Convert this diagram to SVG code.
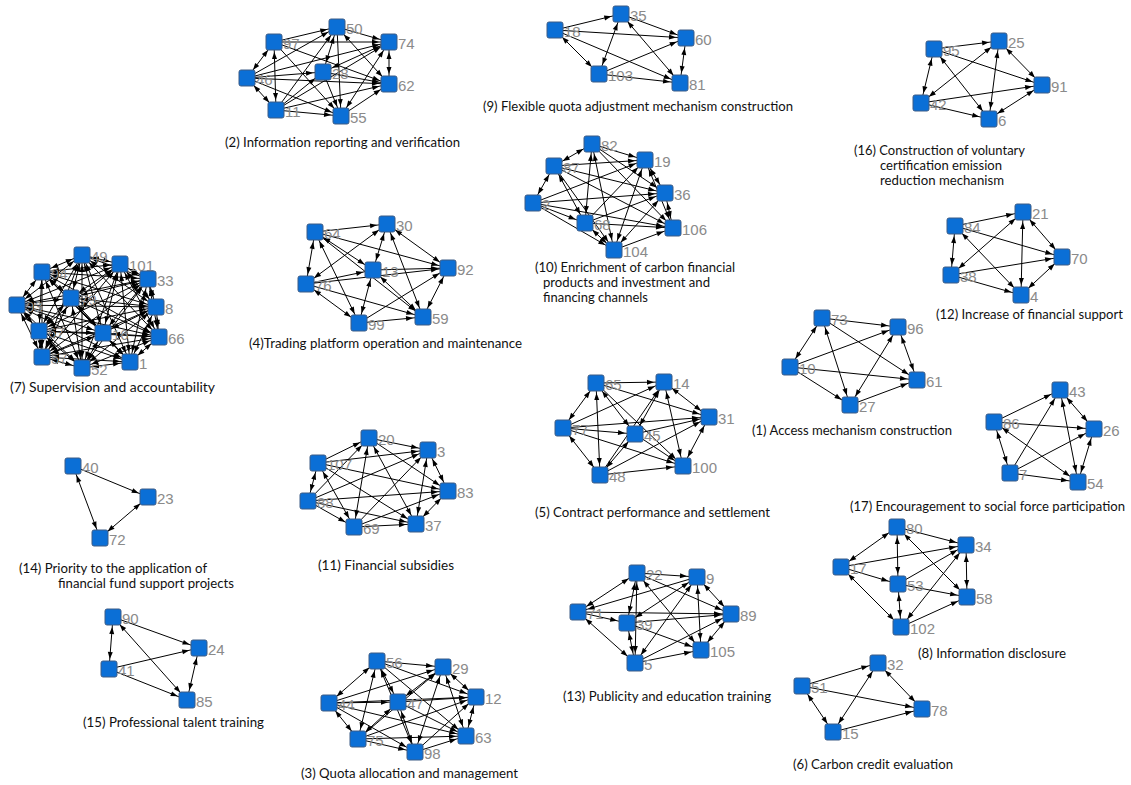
<svg xmlns="http://www.w3.org/2000/svg" width="1131" height="785" viewBox="0 0 1131 785">
<style>
.e{stroke:#000;stroke-width:1;fill:none;marker-end:url(#ah)}
.d{stroke:#000;stroke-width:1;fill:none;marker-start:url(#ah);marker-end:url(#ah)}
.n{fill:#0b6fd6;stroke:#3d5c86;stroke-width:1}
.l{font-family:"Liberation Sans",Arial,sans-serif;font-size:15px;fill:#8a8a8a}
.c{font-family:Lato,"Open Sans",sans-serif;font-size:13px;fill:#111}
</style>
<defs>
<marker id="ah" markerUnits="userSpaceOnUse" markerWidth="20" markerHeight="6" viewBox="0 0 20 6" refX="17" refY="2.5" orient="auto-start-reverse" overflow="visible"><path d="M0,0 L7,2.5 L0,5 z" fill="#000"/></marker>
</defs>
<rect width="1131" height="785" fill="#fff"/>
<g id="connectors">
<!-- cluster 2 -->
<line x1="274" y1="42" x2="337" y2="27" class="e"/>
<line x1="274" y1="42" x2="389" y2="42" class="e"/>
<line x1="274" y1="42" x2="247" y2="78" class="d"/>
<line x1="274" y1="42" x2="276" y2="110" class="d"/>
<line x1="274" y1="42" x2="389" y2="84" class="e"/>
<line x1="274" y1="42" x2="341" y2="116" class="e"/>
<line x1="247" y1="78" x2="337" y2="27" class="e"/>
<line x1="247" y1="78" x2="389" y2="42" class="e"/>
<line x1="247" y1="78" x2="323" y2="72" class="e"/>
<line x1="247" y1="78" x2="389" y2="84" class="e"/>
<line x1="247" y1="78" x2="276" y2="110" class="d"/>
<line x1="247" y1="78" x2="341" y2="116" class="e"/>
<line x1="337" y1="27" x2="389" y2="42" class="e"/>
<line x1="337" y1="27" x2="323" y2="72" class="d"/>
<line x1="337" y1="27" x2="389" y2="84" class="d"/>
<line x1="337" y1="27" x2="341" y2="116" class="e"/>
<line x1="276" y1="110" x2="337" y2="27" class="e"/>
<line x1="389" y1="42" x2="389" y2="84" class="d"/>
<line x1="323" y1="72" x2="389" y2="42" class="d"/>
<line x1="276" y1="110" x2="389" y2="42" class="e"/>
<line x1="389" y1="42" x2="341" y2="116" class="d"/>
<line x1="323" y1="72" x2="389" y2="84" class="e"/>
<line x1="323" y1="72" x2="341" y2="116" class="e"/>
<line x1="276" y1="110" x2="323" y2="72" class="e"/>
<line x1="276" y1="110" x2="341" y2="116" class="e"/>
<line x1="276" y1="110" x2="389" y2="84" class="e"/>
<line x1="341" y1="116" x2="389" y2="84" class="e"/>
<!-- cluster 9 -->
<line x1="555" y1="30" x2="621" y2="14" class="e"/>
<line x1="555" y1="30" x2="686" y2="38" class="e"/>
<line x1="555" y1="30" x2="680" y2="83" class="e"/>
<line x1="555" y1="30" x2="599" y2="74" class="d"/>
<line x1="621" y1="14" x2="599" y2="74" class="d"/>
<line x1="621" y1="14" x2="686" y2="38" class="e"/>
<line x1="621" y1="14" x2="680" y2="83" class="d"/>
<line x1="599" y1="74" x2="686" y2="38" class="e"/>
<line x1="599" y1="74" x2="680" y2="83" class="e"/>
<line x1="686" y1="38" x2="680" y2="83" class="d"/>
<!-- cluster 16 -->
<line x1="934" y1="49" x2="999" y2="41" class="e"/>
<line x1="934" y1="49" x2="1042" y2="85" class="e"/>
<line x1="934" y1="49" x2="921" y2="103" class="d"/>
<line x1="934" y1="49" x2="989" y2="119" class="d"/>
<line x1="921" y1="103" x2="999" y2="41" class="d"/>
<line x1="921" y1="103" x2="1042" y2="85" class="e"/>
<line x1="921" y1="103" x2="989" y2="119" class="e"/>
<line x1="999" y1="41" x2="1042" y2="85" class="d"/>
<line x1="999" y1="41" x2="989" y2="119" class="d"/>
<line x1="989" y1="119" x2="1042" y2="85" class="d"/>
<!-- cluster 10 -->
<line x1="554" y1="166" x2="592" y2="144" class="d"/>
<line x1="554" y1="166" x2="645" y2="160" class="e"/>
<line x1="554" y1="166" x2="665" y2="193" class="e"/>
<line x1="554" y1="166" x2="673" y2="228" class="e"/>
<line x1="554" y1="166" x2="533" y2="203" class="d"/>
<line x1="554" y1="166" x2="585" y2="223" class="d"/>
<line x1="554" y1="166" x2="614" y2="250" class="e"/>
<line x1="592" y1="144" x2="645" y2="160" class="e"/>
<line x1="592" y1="144" x2="585" y2="223" class="d"/>
<line x1="592" y1="144" x2="614" y2="250" class="d"/>
<line x1="592" y1="144" x2="665" y2="193" class="e"/>
<line x1="592" y1="144" x2="673" y2="228" class="e"/>
<line x1="533" y1="203" x2="645" y2="160" class="e"/>
<line x1="533" y1="203" x2="665" y2="193" class="e"/>
<line x1="533" y1="203" x2="585" y2="223" class="e"/>
<line x1="533" y1="203" x2="614" y2="250" class="e"/>
<line x1="533" y1="203" x2="673" y2="228" class="e"/>
<line x1="645" y1="160" x2="665" y2="193" class="d"/>
<line x1="585" y1="223" x2="645" y2="160" class="e"/>
<line x1="645" y1="160" x2="614" y2="250" class="d"/>
<line x1="645" y1="160" x2="673" y2="228" class="d"/>
<line x1="665" y1="193" x2="673" y2="228" class="d"/>
<line x1="585" y1="223" x2="665" y2="193" class="e"/>
<line x1="665" y1="193" x2="614" y2="250" class="d"/>
<line x1="585" y1="223" x2="673" y2="228" class="e"/>
<line x1="585" y1="223" x2="614" y2="250" class="d"/>
<line x1="614" y1="250" x2="673" y2="228" class="e"/>
<!-- cluster 4 -->
<line x1="315" y1="232" x2="387" y2="224" class="e"/>
<line x1="315" y1="232" x2="448" y2="268" class="e"/>
<line x1="315" y1="232" x2="306" y2="284" class="d"/>
<line x1="315" y1="232" x2="373" y2="270" class="d"/>
<line x1="315" y1="232" x2="359" y2="323" class="d"/>
<line x1="315" y1="232" x2="423" y2="317" class="e"/>
<line x1="387" y1="224" x2="306" y2="284" class="d"/>
<line x1="387" y1="224" x2="373" y2="270" class="d"/>
<line x1="387" y1="224" x2="448" y2="268" class="d"/>
<line x1="387" y1="224" x2="423" y2="317" class="d"/>
<line x1="373" y1="270" x2="448" y2="268" class="e"/>
<line x1="306" y1="284" x2="373" y2="270" class="e"/>
<line x1="306" y1="284" x2="448" y2="268" class="e"/>
<line x1="306" y1="284" x2="359" y2="323" class="d"/>
<line x1="306" y1="284" x2="423" y2="317" class="e"/>
<line x1="373" y1="270" x2="359" y2="323" class="d"/>
<line x1="373" y1="270" x2="423" y2="317" class="d"/>
<line x1="359" y1="323" x2="423" y2="317" class="e"/>
<line x1="359" y1="323" x2="448" y2="268" class="e"/>
<line x1="448" y1="268" x2="423" y2="317" class="d"/>
<!-- cluster 7 -->
<line x1="82" y1="255" x2="120" y2="264" class="d"/>
<line x1="82" y1="255" x2="42" y2="272" class="d"/>
<line x1="82" y1="255" x2="148" y2="279" class="d"/>
<line x1="82" y1="255" x2="71" y2="298" class="d"/>
<line x1="82" y1="255" x2="17" y2="305" class="d"/>
<line x1="82" y1="255" x2="156" y2="307" class="d"/>
<line x1="82" y1="255" x2="39" y2="331" class="d"/>
<line x1="82" y1="255" x2="103" y2="333" class="d"/>
<line x1="82" y1="255" x2="159" y2="337" class="d"/>
<line x1="82" y1="255" x2="42" y2="357" class="d"/>
<line x1="82" y1="255" x2="82" y2="368" class="d"/>
<line x1="82" y1="255" x2="130" y2="362" class="d"/>
<line x1="120" y1="264" x2="42" y2="272" class="d"/>
<line x1="120" y1="264" x2="148" y2="279" class="d"/>
<line x1="120" y1="264" x2="71" y2="298" class="d"/>
<line x1="120" y1="264" x2="17" y2="305" class="d"/>
<line x1="120" y1="264" x2="156" y2="307" class="d"/>
<line x1="120" y1="264" x2="39" y2="331" class="d"/>
<line x1="120" y1="264" x2="103" y2="333" class="d"/>
<line x1="120" y1="264" x2="159" y2="337" class="d"/>
<line x1="120" y1="264" x2="42" y2="357" class="d"/>
<line x1="120" y1="264" x2="82" y2="368" class="d"/>
<line x1="120" y1="264" x2="130" y2="362" class="d"/>
<line x1="42" y1="272" x2="148" y2="279" class="d"/>
<line x1="42" y1="272" x2="71" y2="298" class="d"/>
<line x1="42" y1="272" x2="17" y2="305" class="d"/>
<line x1="42" y1="272" x2="156" y2="307" class="d"/>
<line x1="42" y1="272" x2="39" y2="331" class="d"/>
<line x1="42" y1="272" x2="103" y2="333" class="d"/>
<line x1="42" y1="272" x2="159" y2="337" class="d"/>
<line x1="42" y1="272" x2="42" y2="357" class="d"/>
<line x1="42" y1="272" x2="82" y2="368" class="d"/>
<line x1="42" y1="272" x2="130" y2="362" class="d"/>
<line x1="148" y1="279" x2="71" y2="298" class="d"/>
<line x1="148" y1="279" x2="17" y2="305" class="d"/>
<line x1="148" y1="279" x2="156" y2="307" class="d"/>
<line x1="148" y1="279" x2="39" y2="331" class="d"/>
<line x1="148" y1="279" x2="103" y2="333" class="d"/>
<line x1="148" y1="279" x2="159" y2="337" class="d"/>
<line x1="148" y1="279" x2="42" y2="357" class="d"/>
<line x1="148" y1="279" x2="82" y2="368" class="d"/>
<line x1="148" y1="279" x2="130" y2="362" class="d"/>
<line x1="71" y1="298" x2="17" y2="305" class="d"/>
<line x1="71" y1="298" x2="156" y2="307" class="d"/>
<line x1="71" y1="298" x2="39" y2="331" class="d"/>
<line x1="71" y1="298" x2="103" y2="333" class="d"/>
<line x1="71" y1="298" x2="159" y2="337" class="d"/>
<line x1="71" y1="298" x2="42" y2="357" class="d"/>
<line x1="71" y1="298" x2="82" y2="368" class="d"/>
<line x1="71" y1="298" x2="130" y2="362" class="d"/>
<line x1="17" y1="305" x2="156" y2="307" class="d"/>
<line x1="17" y1="305" x2="39" y2="331" class="d"/>
<line x1="17" y1="305" x2="103" y2="333" class="d"/>
<line x1="17" y1="305" x2="159" y2="337" class="d"/>
<line x1="17" y1="305" x2="42" y2="357" class="d"/>
<line x1="17" y1="305" x2="82" y2="368" class="d"/>
<line x1="17" y1="305" x2="130" y2="362" class="d"/>
<line x1="156" y1="307" x2="39" y2="331" class="d"/>
<line x1="156" y1="307" x2="103" y2="333" class="d"/>
<line x1="156" y1="307" x2="159" y2="337" class="d"/>
<line x1="156" y1="307" x2="42" y2="357" class="d"/>
<line x1="156" y1="307" x2="82" y2="368" class="d"/>
<line x1="156" y1="307" x2="130" y2="362" class="d"/>
<line x1="39" y1="331" x2="103" y2="333" class="d"/>
<line x1="39" y1="331" x2="159" y2="337" class="d"/>
<line x1="39" y1="331" x2="42" y2="357" class="d"/>
<line x1="39" y1="331" x2="82" y2="368" class="d"/>
<line x1="39" y1="331" x2="130" y2="362" class="d"/>
<line x1="103" y1="333" x2="159" y2="337" class="d"/>
<line x1="103" y1="333" x2="42" y2="357" class="d"/>
<line x1="103" y1="333" x2="82" y2="368" class="d"/>
<line x1="103" y1="333" x2="130" y2="362" class="d"/>
<line x1="159" y1="337" x2="42" y2="357" class="d"/>
<line x1="159" y1="337" x2="82" y2="368" class="d"/>
<line x1="159" y1="337" x2="130" y2="362" class="d"/>
<line x1="42" y1="357" x2="82" y2="368" class="d"/>
<line x1="42" y1="357" x2="130" y2="362" class="d"/>
<line x1="82" y1="368" x2="130" y2="362" class="d"/>
<!-- cluster 12 -->
<line x1="955" y1="226" x2="1023" y2="212" class="e"/>
<line x1="955" y1="226" x2="1062" y2="257" class="e"/>
<line x1="955" y1="226" x2="951" y2="275" class="d"/>
<line x1="955" y1="226" x2="1021" y2="295" class="d"/>
<line x1="951" y1="275" x2="1023" y2="212" class="d"/>
<line x1="951" y1="275" x2="1062" y2="257" class="e"/>
<line x1="951" y1="275" x2="1021" y2="295" class="e"/>
<line x1="1023" y1="212" x2="1062" y2="257" class="d"/>
<line x1="1023" y1="212" x2="1021" y2="295" class="d"/>
<line x1="1021" y1="295" x2="1062" y2="257" class="d"/>
<!-- cluster 1 -->
<line x1="822" y1="318" x2="898" y2="327" class="e"/>
<line x1="822" y1="318" x2="790" y2="367" class="d"/>
<line x1="822" y1="318" x2="850" y2="405" class="d"/>
<line x1="822" y1="318" x2="917" y2="380" class="e"/>
<line x1="790" y1="367" x2="898" y2="327" class="e"/>
<line x1="790" y1="367" x2="917" y2="380" class="e"/>
<line x1="790" y1="367" x2="850" y2="405" class="e"/>
<line x1="850" y1="405" x2="898" y2="327" class="d"/>
<line x1="850" y1="405" x2="917" y2="380" class="e"/>
<line x1="898" y1="327" x2="917" y2="380" class="d"/>
<!-- cluster 17 -->
<line x1="994" y1="422" x2="1060" y2="390" class="e"/>
<line x1="994" y1="422" x2="1094" y2="429" class="e"/>
<line x1="994" y1="422" x2="1010" y2="473" class="d"/>
<line x1="994" y1="422" x2="1078" y2="482" class="d"/>
<line x1="1010" y1="473" x2="1060" y2="390" class="e"/>
<line x1="1010" y1="473" x2="1094" y2="429" class="e"/>
<line x1="1010" y1="473" x2="1078" y2="482" class="e"/>
<line x1="1060" y1="390" x2="1094" y2="429" class="d"/>
<line x1="1060" y1="390" x2="1078" y2="482" class="d"/>
<line x1="1094" y1="429" x2="1078" y2="482" class="d"/>
<!-- cluster 5 -->
<line x1="596" y1="383" x2="664" y2="382" class="e"/>
<line x1="596" y1="383" x2="709" y2="417" class="e"/>
<line x1="596" y1="383" x2="563" y2="428" class="d"/>
<line x1="596" y1="383" x2="635" y2="434" class="d"/>
<line x1="596" y1="383" x2="600" y2="475" class="d"/>
<line x1="596" y1="383" x2="683" y2="466" class="e"/>
<line x1="563" y1="428" x2="664" y2="382" class="e"/>
<line x1="563" y1="428" x2="709" y2="417" class="e"/>
<line x1="563" y1="428" x2="635" y2="434" class="e"/>
<line x1="563" y1="428" x2="600" y2="475" class="d"/>
<line x1="563" y1="428" x2="683" y2="466" class="e"/>
<line x1="664" y1="382" x2="635" y2="434" class="d"/>
<line x1="664" y1="382" x2="709" y2="417" class="d"/>
<line x1="664" y1="382" x2="683" y2="466" class="d"/>
<line x1="600" y1="475" x2="664" y2="382" class="e"/>
<line x1="635" y1="434" x2="709" y2="417" class="e"/>
<line x1="635" y1="434" x2="683" y2="466" class="e"/>
<line x1="635" y1="434" x2="600" y2="475" class="d"/>
<line x1="600" y1="475" x2="709" y2="417" class="e"/>
<line x1="600" y1="475" x2="683" y2="466" class="e"/>
<line x1="709" y1="417" x2="683" y2="466" class="d"/>
<!-- cluster 14 -->
<line x1="73" y1="466" x2="148" y2="497" class="e"/>
<line x1="73" y1="466" x2="100" y2="538" class="d"/>
<line x1="100" y1="538" x2="148" y2="497" class="d"/>
<!-- cluster 15 -->
<line x1="113" y1="617" x2="199" y2="648" class="e"/>
<line x1="113" y1="617" x2="109" y2="669" class="d"/>
<line x1="113" y1="617" x2="187" y2="700" class="d"/>
<line x1="109" y1="669" x2="199" y2="648" class="e"/>
<line x1="109" y1="669" x2="187" y2="700" class="e"/>
<line x1="199" y1="648" x2="187" y2="700" class="d"/>
<!-- cluster 11 -->
<line x1="318" y1="463" x2="369" y2="438" class="e"/>
<line x1="318" y1="463" x2="428" y2="450" class="e"/>
<line x1="318" y1="463" x2="448" y2="491" class="e"/>
<line x1="318" y1="463" x2="308" y2="501" class="d"/>
<line x1="318" y1="463" x2="354" y2="527" class="d"/>
<line x1="318" y1="463" x2="416" y2="524" class="e"/>
<line x1="369" y1="438" x2="428" y2="450" class="e"/>
<line x1="369" y1="438" x2="354" y2="527" class="d"/>
<line x1="369" y1="438" x2="448" y2="491" class="e"/>
<line x1="369" y1="438" x2="416" y2="524" class="d"/>
<line x1="308" y1="501" x2="369" y2="438" class="e"/>
<line x1="308" y1="501" x2="428" y2="450" class="e"/>
<line x1="308" y1="501" x2="448" y2="491" class="e"/>
<line x1="308" y1="501" x2="354" y2="527" class="e"/>
<line x1="308" y1="501" x2="416" y2="524" class="e"/>
<line x1="428" y1="450" x2="448" y2="491" class="d"/>
<line x1="428" y1="450" x2="416" y2="524" class="d"/>
<line x1="354" y1="527" x2="428" y2="450" class="e"/>
<line x1="354" y1="527" x2="448" y2="491" class="e"/>
<line x1="354" y1="527" x2="416" y2="524" class="e"/>
<line x1="416" y1="524" x2="448" y2="491" class="d"/>
<!-- cluster 3 -->
<line x1="377" y1="661" x2="443" y2="667" class="e"/>
<line x1="377" y1="661" x2="476" y2="697" class="e"/>
<line x1="377" y1="661" x2="329" y2="703" class="d"/>
<line x1="377" y1="661" x2="398" y2="702" class="d"/>
<line x1="377" y1="661" x2="358" y2="739" class="d"/>
<line x1="377" y1="661" x2="466" y2="736" class="e"/>
<line x1="377" y1="661" x2="415" y2="752" class="d"/>
<line x1="443" y1="667" x2="398" y2="702" class="d"/>
<line x1="443" y1="667" x2="476" y2="697" class="d"/>
<line x1="443" y1="667" x2="466" y2="736" class="d"/>
<line x1="443" y1="667" x2="415" y2="752" class="d"/>
<line x1="329" y1="703" x2="443" y2="667" class="e"/>
<line x1="358" y1="739" x2="443" y2="667" class="e"/>
<line x1="329" y1="703" x2="398" y2="702" class="e"/>
<line x1="329" y1="703" x2="358" y2="739" class="d"/>
<line x1="329" y1="703" x2="476" y2="697" class="e"/>
<line x1="329" y1="703" x2="466" y2="736" class="e"/>
<line x1="329" y1="703" x2="415" y2="752" class="e"/>
<line x1="398" y1="702" x2="476" y2="697" class="e"/>
<line x1="398" y1="702" x2="466" y2="736" class="e"/>
<line x1="398" y1="702" x2="415" y2="752" class="d"/>
<line x1="398" y1="702" x2="358" y2="739" class="d"/>
<line x1="476" y1="697" x2="466" y2="736" class="d"/>
<line x1="358" y1="739" x2="476" y2="697" class="e"/>
<line x1="415" y1="752" x2="476" y2="697" class="e"/>
<line x1="358" y1="739" x2="466" y2="736" class="e"/>
<line x1="358" y1="739" x2="415" y2="752" class="e"/>
<line x1="415" y1="752" x2="466" y2="736" class="e"/>
<!-- cluster 13 -->
<line x1="637" y1="573" x2="578" y2="612" class="d"/>
<line x1="637" y1="573" x2="627" y2="623" class="d"/>
<line x1="637" y1="573" x2="635" y2="663" class="d"/>
<line x1="637" y1="573" x2="697" y2="577" class="e"/>
<line x1="637" y1="573" x2="731" y2="614" class="e"/>
<line x1="637" y1="573" x2="701" y2="650" class="d"/>
<line x1="697" y1="577" x2="578" y2="612" class="e"/>
<line x1="697" y1="577" x2="627" y2="623" class="d"/>
<line x1="697" y1="577" x2="635" y2="663" class="d"/>
<line x1="697" y1="577" x2="731" y2="614" class="d"/>
<line x1="697" y1="577" x2="701" y2="650" class="d"/>
<line x1="578" y1="612" x2="731" y2="614" class="e"/>
<line x1="578" y1="612" x2="627" y2="623" class="e"/>
<line x1="578" y1="612" x2="635" y2="663" class="d"/>
<line x1="627" y1="623" x2="731" y2="614" class="e"/>
<line x1="627" y1="623" x2="701" y2="650" class="e"/>
<line x1="627" y1="623" x2="635" y2="663" class="d"/>
<line x1="635" y1="663" x2="701" y2="650" class="e"/>
<line x1="635" y1="663" x2="731" y2="614" class="e"/>
<line x1="701" y1="650" x2="731" y2="614" class="d"/>
<!-- cluster 8 -->
<line x1="897" y1="527" x2="966" y2="545" class="e"/>
<line x1="897" y1="527" x2="841" y2="567" class="d"/>
<line x1="897" y1="527" x2="898" y2="584" class="d"/>
<line x1="897" y1="527" x2="967" y2="597" class="d"/>
<line x1="841" y1="567" x2="966" y2="545" class="e"/>
<line x1="841" y1="567" x2="898" y2="584" class="e"/>
<line x1="841" y1="567" x2="901" y2="627" class="d"/>
<line x1="898" y1="584" x2="966" y2="545" class="e"/>
<line x1="898" y1="584" x2="967" y2="597" class="e"/>
<line x1="898" y1="584" x2="901" y2="627" class="d"/>
<line x1="901" y1="627" x2="966" y2="545" class="d"/>
<line x1="901" y1="627" x2="967" y2="597" class="e"/>
<line x1="966" y1="545" x2="967" y2="597" class="d"/>
<!-- cluster 6 -->
<line x1="802" y1="686" x2="878" y2="663" class="e"/>
<line x1="802" y1="686" x2="922" y2="709" class="e"/>
<line x1="802" y1="686" x2="833" y2="732" class="d"/>
<line x1="833" y1="732" x2="878" y2="663" class="d"/>
<line x1="833" y1="732" x2="922" y2="709" class="e"/>
<line x1="878" y1="663" x2="922" y2="709" class="d"/>
</g>
<g id="nodes">
<g id="n97"><rect class="n" x="266" y="34" width="16" height="16" rx="2"/><text class="l" x="283" y="49">97</text></g>
<g id="n50"><rect class="n" x="329" y="19" width="16" height="16" rx="2"/><text class="l" x="346" y="34">50</text></g>
<g id="n74"><rect class="n" x="381" y="34" width="16" height="16" rx="2"/><text class="l" x="398" y="49">74</text></g>
<g id="n46"><rect class="n" x="239" y="70" width="16" height="16" rx="2"/><text class="l" x="256" y="85">46</text></g>
<g id="n28"><rect class="n" x="315" y="64" width="16" height="16" rx="2"/><text class="l" x="332" y="79">28</text></g>
<g id="n62"><rect class="n" x="381" y="76" width="16" height="16" rx="2"/><text class="l" x="398" y="91">62</text></g>
<g id="n11"><rect class="n" x="268" y="102" width="16" height="16" rx="2"/><text class="l" x="285" y="117">11</text></g>
<g id="n55"><rect class="n" x="333" y="108" width="16" height="16" rx="2"/><text class="l" x="350" y="123">55</text></g>
<g id="n18"><rect class="n" x="547" y="22" width="16" height="16" rx="2"/><text class="l" x="564" y="37">18</text></g>
<g id="n35"><rect class="n" x="613" y="6" width="16" height="16" rx="2"/><text class="l" x="630" y="21">35</text></g>
<g id="n60"><rect class="n" x="678" y="30" width="16" height="16" rx="2"/><text class="l" x="695" y="45">60</text></g>
<g id="n103"><rect class="n" x="591" y="66" width="16" height="16" rx="2"/><text class="l" x="608" y="81">103</text></g>
<g id="n81"><rect class="n" x="672" y="75" width="16" height="16" rx="2"/><text class="l" x="689" y="90">81</text></g>
<g id="n95"><rect class="n" x="926" y="41" width="16" height="16" rx="2"/><text class="l" x="943" y="56">95</text></g>
<g id="n25"><rect class="n" x="991" y="33" width="16" height="16" rx="2"/><text class="l" x="1008" y="48">25</text></g>
<g id="n91"><rect class="n" x="1034" y="77" width="16" height="16" rx="2"/><text class="l" x="1051" y="92">91</text></g>
<g id="n42"><rect class="n" x="913" y="95" width="16" height="16" rx="2"/><text class="l" x="930" y="110">42</text></g>
<g id="n6"><rect class="n" x="981" y="111" width="16" height="16" rx="2"/><text class="l" x="998" y="126">6</text></g>
<g id="n82"><rect class="n" x="584" y="136" width="16" height="16" rx="2"/><text class="l" x="601" y="151">82</text></g>
<g id="n87"><rect class="n" x="546" y="158" width="16" height="16" rx="2"/><text class="l" x="563" y="173">87</text></g>
<g id="n19"><rect class="n" x="637" y="152" width="16" height="16" rx="2"/><text class="l" x="654" y="167">19</text></g>
<g id="n2"><rect class="n" x="525" y="195" width="16" height="16" rx="2"/><text class="l" x="542" y="210">2</text></g>
<g id="n36"><rect class="n" x="657" y="185" width="16" height="16" rx="2"/><text class="l" x="674" y="200">36</text></g>
<g id="n68"><rect class="n" x="577" y="215" width="16" height="16" rx="2"/><text class="l" x="594" y="230">68</text></g>
<g id="n106"><rect class="n" x="665" y="220" width="16" height="16" rx="2"/><text class="l" x="682" y="235">106</text></g>
<g id="n104"><rect class="n" x="606" y="242" width="16" height="16" rx="2"/><text class="l" x="623" y="257">104</text></g>
<g id="n64"><rect class="n" x="307" y="224" width="16" height="16" rx="2"/><text class="l" x="324" y="239">64</text></g>
<g id="n30"><rect class="n" x="379" y="216" width="16" height="16" rx="2"/><text class="l" x="396" y="231">30</text></g>
<g id="n13"><rect class="n" x="365" y="262" width="16" height="16" rx="2"/><text class="l" x="382" y="277">13</text></g>
<g id="n92"><rect class="n" x="440" y="260" width="16" height="16" rx="2"/><text class="l" x="457" y="275">92</text></g>
<g id="n76"><rect class="n" x="298" y="276" width="16" height="16" rx="2"/><text class="l" x="315" y="291">76</text></g>
<g id="n99"><rect class="n" x="351" y="315" width="16" height="16" rx="2"/><text class="l" x="368" y="330">99</text></g>
<g id="n59"><rect class="n" x="415" y="309" width="16" height="16" rx="2"/><text class="l" x="432" y="324">59</text></g>
<g id="n49"><rect class="n" x="74" y="247" width="16" height="16" rx="2"/><text class="l" x="91" y="262">49</text></g>
<g id="n101"><rect class="n" x="112" y="256" width="16" height="16" rx="2"/><text class="l" x="129" y="271">101</text></g>
<g id="n94"><rect class="n" x="34" y="264" width="16" height="16" rx="2"/><text class="l" x="51" y="279">94</text></g>
<g id="n33"><rect class="n" x="140" y="271" width="16" height="16" rx="2"/><text class="l" x="157" y="286">33</text></g>
<g id="n79"><rect class="n" x="63" y="290" width="16" height="16" rx="2"/><text class="l" x="80" y="305">79</text></g>
<g id="n93"><rect class="n" x="9" y="297" width="16" height="16" rx="2"/><text class="l" x="26" y="312">93</text></g>
<g id="n8"><rect class="n" x="148" y="299" width="16" height="16" rx="2"/><text class="l" x="165" y="314">8</text></g>
<g id="n67"><rect class="n" x="31" y="323" width="16" height="16" rx="2"/><text class="l" x="48" y="338">67</text></g>
<g id="n16"><rect class="n" x="95" y="325" width="16" height="16" rx="2"/><text class="l" x="112" y="340">16</text></g>
<g id="n66"><rect class="n" x="151" y="329" width="16" height="16" rx="2"/><text class="l" x="168" y="344">66</text></g>
<g id="n57"><rect class="n" x="34" y="349" width="16" height="16" rx="2"/><text class="l" x="51" y="364">57</text></g>
<g id="n52"><rect class="n" x="74" y="360" width="16" height="16" rx="2"/><text class="l" x="91" y="375">52</text></g>
<g id="n1"><rect class="n" x="122" y="354" width="16" height="16" rx="2"/><text class="l" x="139" y="369">1</text></g>
<g id="n21"><rect class="n" x="1015" y="204" width="16" height="16" rx="2"/><text class="l" x="1032" y="219">21</text></g>
<g id="n84"><rect class="n" x="947" y="218" width="16" height="16" rx="2"/><text class="l" x="964" y="233">84</text></g>
<g id="n70"><rect class="n" x="1054" y="249" width="16" height="16" rx="2"/><text class="l" x="1071" y="264">70</text></g>
<g id="n38"><rect class="n" x="943" y="267" width="16" height="16" rx="2"/><text class="l" x="960" y="282">38</text></g>
<g id="n4"><rect class="n" x="1013" y="287" width="16" height="16" rx="2"/><text class="l" x="1030" y="302">4</text></g>
<g id="n73"><rect class="n" x="814" y="310" width="16" height="16" rx="2"/><text class="l" x="831" y="325">73</text></g>
<g id="n96"><rect class="n" x="890" y="319" width="16" height="16" rx="2"/><text class="l" x="907" y="334">96</text></g>
<g id="n10"><rect class="n" x="782" y="359" width="16" height="16" rx="2"/><text class="l" x="799" y="374">10</text></g>
<g id="n61"><rect class="n" x="909" y="372" width="16" height="16" rx="2"/><text class="l" x="926" y="387">61</text></g>
<g id="n27"><rect class="n" x="842" y="397" width="16" height="16" rx="2"/><text class="l" x="859" y="412">27</text></g>
<g id="n43"><rect class="n" x="1052" y="382" width="16" height="16" rx="2"/><text class="l" x="1069" y="397">43</text></g>
<g id="n86"><rect class="n" x="986" y="414" width="16" height="16" rx="2"/><text class="l" x="1003" y="429">86</text></g>
<g id="n26"><rect class="n" x="1086" y="421" width="16" height="16" rx="2"/><text class="l" x="1103" y="436">26</text></g>
<g id="n7"><rect class="n" x="1002" y="465" width="16" height="16" rx="2"/><text class="l" x="1019" y="480">7</text></g>
<g id="n54"><rect class="n" x="1070" y="474" width="16" height="16" rx="2"/><text class="l" x="1087" y="489">54</text></g>
<g id="n65"><rect class="n" x="588" y="375" width="16" height="16" rx="2"/><text class="l" x="605" y="390">65</text></g>
<g id="n14"><rect class="n" x="656" y="374" width="16" height="16" rx="2"/><text class="l" x="673" y="389">14</text></g>
<g id="n77"><rect class="n" x="555" y="420" width="16" height="16" rx="2"/><text class="l" x="572" y="435">77</text></g>
<g id="n31"><rect class="n" x="701" y="409" width="16" height="16" rx="2"/><text class="l" x="718" y="424">31</text></g>
<g id="n45"><rect class="n" x="627" y="426" width="16" height="16" rx="2"/><text class="l" x="644" y="441">45</text></g>
<g id="n48"><rect class="n" x="592" y="467" width="16" height="16" rx="2"/><text class="l" x="609" y="482">48</text></g>
<g id="n100"><rect class="n" x="675" y="458" width="16" height="16" rx="2"/><text class="l" x="692" y="473">100</text></g>
<g id="n40"><rect class="n" x="65" y="458" width="16" height="16" rx="2"/><text class="l" x="82" y="473">40</text></g>
<g id="n23"><rect class="n" x="140" y="489" width="16" height="16" rx="2"/><text class="l" x="157" y="504">23</text></g>
<g id="n72"><rect class="n" x="92" y="530" width="16" height="16" rx="2"/><text class="l" x="109" y="545">72</text></g>
<g id="n90"><rect class="n" x="105" y="609" width="16" height="16" rx="2"/><text class="l" x="122" y="624">90</text></g>
<g id="n24"><rect class="n" x="191" y="640" width="16" height="16" rx="2"/><text class="l" x="208" y="655">24</text></g>
<g id="n41"><rect class="n" x="101" y="661" width="16" height="16" rx="2"/><text class="l" x="118" y="676">41</text></g>
<g id="n85"><rect class="n" x="179" y="692" width="16" height="16" rx="2"/><text class="l" x="196" y="707">85</text></g>
<g id="n20"><rect class="n" x="361" y="430" width="16" height="16" rx="2"/><text class="l" x="378" y="445">20</text></g>
<g id="n3"><rect class="n" x="420" y="442" width="16" height="16" rx="2"/><text class="l" x="437" y="457">3</text></g>
<g id="n107"><rect class="n" x="310" y="455" width="16" height="16" rx="2"/><text class="l" x="327" y="470">107</text></g>
<g id="n83"><rect class="n" x="440" y="483" width="16" height="16" rx="2"/><text class="l" x="457" y="498">83</text></g>
<g id="n88"><rect class="n" x="300" y="493" width="16" height="16" rx="2"/><text class="l" x="317" y="508">88</text></g>
<g id="n69"><rect class="n" x="346" y="519" width="16" height="16" rx="2"/><text class="l" x="363" y="534">69</text></g>
<g id="n37"><rect class="n" x="408" y="516" width="16" height="16" rx="2"/><text class="l" x="425" y="531">37</text></g>
<g id="n56"><rect class="n" x="369" y="653" width="16" height="16" rx="2"/><text class="l" x="386" y="668">56</text></g>
<g id="n29"><rect class="n" x="435" y="659" width="16" height="16" rx="2"/><text class="l" x="452" y="674">29</text></g>
<g id="n44"><rect class="n" x="321" y="695" width="16" height="16" rx="2"/><text class="l" x="338" y="710">44</text></g>
<g id="n47"><rect class="n" x="390" y="694" width="16" height="16" rx="2"/><text class="l" x="407" y="709">47</text></g>
<g id="n12"><rect class="n" x="468" y="689" width="16" height="16" rx="2"/><text class="l" x="485" y="704">12</text></g>
<g id="n75"><rect class="n" x="350" y="731" width="16" height="16" rx="2"/><text class="l" x="367" y="746">75</text></g>
<g id="n63"><rect class="n" x="458" y="728" width="16" height="16" rx="2"/><text class="l" x="475" y="743">63</text></g>
<g id="n98"><rect class="n" x="407" y="744" width="16" height="16" rx="2"/><text class="l" x="424" y="759">98</text></g>
<g id="n22"><rect class="n" x="629" y="565" width="16" height="16" rx="2"/><text class="l" x="646" y="580">22</text></g>
<g id="n9"><rect class="n" x="689" y="569" width="16" height="16" rx="2"/><text class="l" x="706" y="584">9</text></g>
<g id="n71"><rect class="n" x="570" y="604" width="16" height="16" rx="2"/><text class="l" x="587" y="619">71</text></g>
<g id="n89"><rect class="n" x="723" y="606" width="16" height="16" rx="2"/><text class="l" x="740" y="621">89</text></g>
<g id="n39"><rect class="n" x="619" y="615" width="16" height="16" rx="2"/><text class="l" x="636" y="630">39</text></g>
<g id="n105"><rect class="n" x="693" y="642" width="16" height="16" rx="2"/><text class="l" x="710" y="657">105</text></g>
<g id="n5"><rect class="n" x="627" y="655" width="16" height="16" rx="2"/><text class="l" x="644" y="670">5</text></g>
<g id="n80"><rect class="n" x="889" y="519" width="16" height="16" rx="2"/><text class="l" x="906" y="534">80</text></g>
<g id="n34"><rect class="n" x="958" y="537" width="16" height="16" rx="2"/><text class="l" x="975" y="552">34</text></g>
<g id="n17"><rect class="n" x="833" y="559" width="16" height="16" rx="2"/><text class="l" x="850" y="574">17</text></g>
<g id="n53"><rect class="n" x="890" y="576" width="16" height="16" rx="2"/><text class="l" x="907" y="591">53</text></g>
<g id="n58"><rect class="n" x="959" y="589" width="16" height="16" rx="2"/><text class="l" x="976" y="604">58</text></g>
<g id="n102"><rect class="n" x="893" y="619" width="16" height="16" rx="2"/><text class="l" x="910" y="634">102</text></g>
<g id="n32"><rect class="n" x="870" y="655" width="16" height="16" rx="2"/><text class="l" x="887" y="670">32</text></g>
<g id="n51"><rect class="n" x="794" y="678" width="16" height="16" rx="2"/><text class="l" x="811" y="693">51</text></g>
<g id="n78"><rect class="n" x="914" y="701" width="16" height="16" rx="2"/><text class="l" x="931" y="716">78</text></g>
<g id="n15"><rect class="n" x="825" y="724" width="16" height="16" rx="2"/><text class="l" x="842" y="739">15</text></g>
</g>
<g id="captions">
<text class="c" x="225" y="147" textLength="235" lengthAdjust="spacingAndGlyphs">(2) Information reporting and verification</text>
<text class="c" x="483" y="111" textLength="310" lengthAdjust="spacingAndGlyphs">(9) Flexible quota adjustment mechanism construction</text>
<text class="c" x="854" y="155" textLength="171" lengthAdjust="spacingAndGlyphs">(16) Construction of voluntary</text>
<text class="c" x="880" y="170" textLength="122" lengthAdjust="spacingAndGlyphs">certification emission</text>
<text class="c" x="880" y="185" textLength="124" lengthAdjust="spacingAndGlyphs">reduction mechanism</text>
<text class="c" x="535" y="272" textLength="200" lengthAdjust="spacingAndGlyphs">(10) Enrichment of carbon financial</text>
<text class="c" x="543" y="287" textLength="167" lengthAdjust="spacingAndGlyphs">products and investment and</text>
<text class="c" x="543" y="302" textLength="105" lengthAdjust="spacingAndGlyphs">financing channels</text>
<text class="c" x="249" y="348" textLength="273" lengthAdjust="spacingAndGlyphs">(4)Trading platform operation and maintenance</text>
<text class="c" x="10" y="392" textLength="205" lengthAdjust="spacingAndGlyphs">(7)  Supervision and accountability</text>
<text class="c" x="936" y="319" textLength="187" lengthAdjust="spacingAndGlyphs">(12) Increase of financial support</text>
<text class="c" x="752" y="435" textLength="200" lengthAdjust="spacingAndGlyphs">(1) Access mechanism construction</text>
<text class="c" x="535" y="517" textLength="235" lengthAdjust="spacingAndGlyphs">(5) Contract performance and settlement</text>
<text class="c" x="850" y="511" textLength="275" lengthAdjust="spacingAndGlyphs">(17) Encouragement to social force participation</text>
<text class="c" x="19" y="573" textLength="188" lengthAdjust="spacingAndGlyphs">(14) Priority to the application of</text>
<text class="c" x="58" y="588" textLength="176" lengthAdjust="spacingAndGlyphs">financial fund support projects</text>
<text class="c" x="318" y="570" textLength="136" lengthAdjust="spacingAndGlyphs">(11)  Financial subsidies</text>
<text class="c" x="83" y="727" textLength="181" lengthAdjust="spacingAndGlyphs">(15) Professional talent training</text>
<text class="c" x="301" y="778" textLength="217" lengthAdjust="spacingAndGlyphs">(3) Quota allocation and management</text>
<text class="c" x="563" y="701" textLength="208" lengthAdjust="spacingAndGlyphs">(13) Publicity and education training</text>
<text class="c" x="918" y="658" textLength="148" lengthAdjust="spacingAndGlyphs">(8) Information disclosure</text>
<text class="c" x="793" y="769" textLength="160" lengthAdjust="spacingAndGlyphs">(6) Carbon credit evaluation</text>
</g>
</svg>
